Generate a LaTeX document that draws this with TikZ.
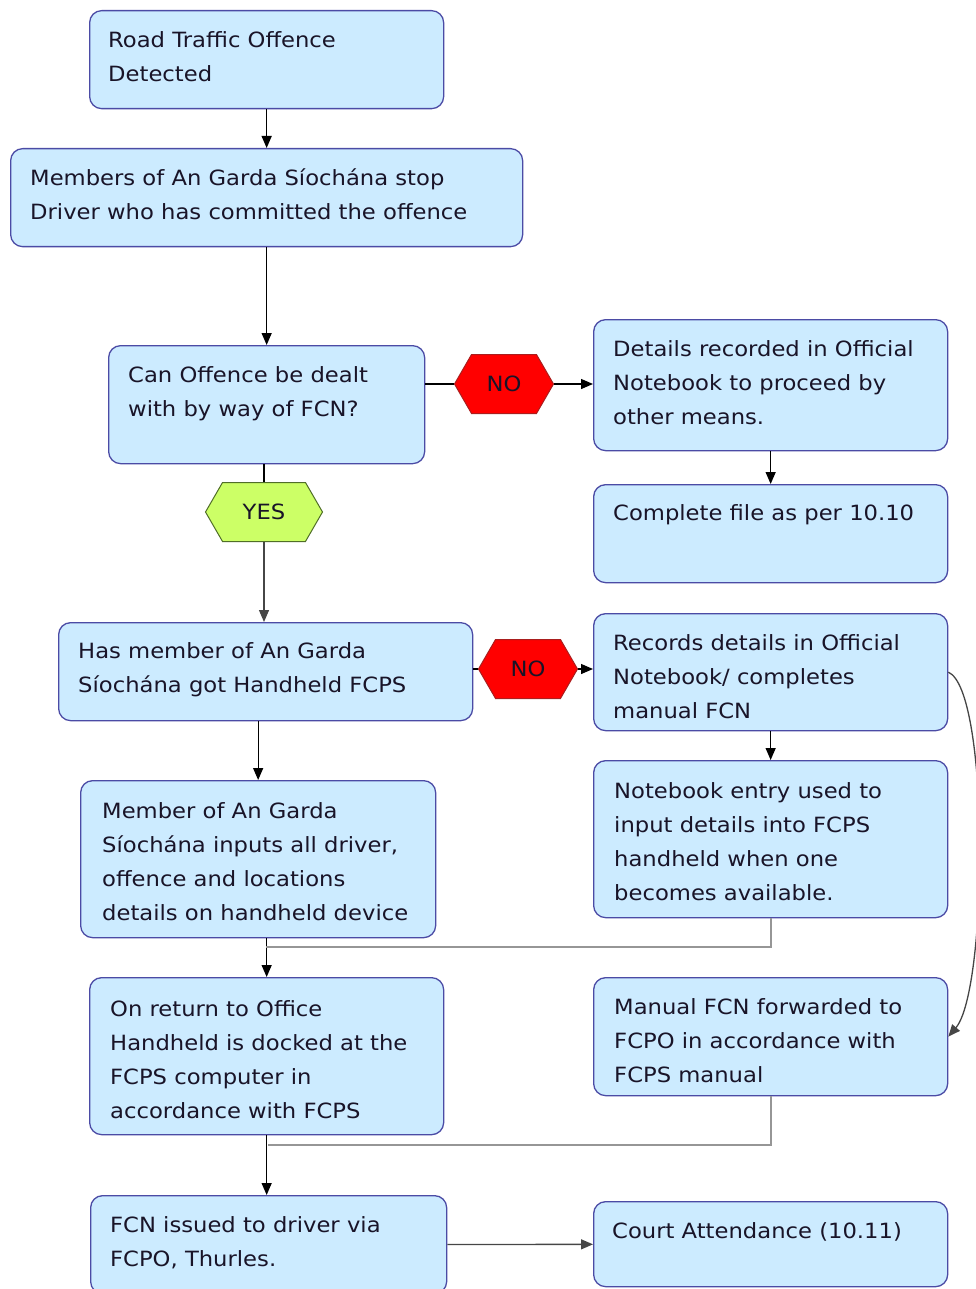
\documentclass[tikz,border=0pt]{standalone}
\usepackage{fontspec}
\setmainfont[FakeStretch=1.08]{DejaVu Sans}
\usetikzlibrary{shapes.symbols,arrows.meta}
\definecolor{boxfill}{RGB}{204,235,255}
\definecolor{boxline}{RGB}{75,75,165}
\definecolor{nored}{RGB}{255,0,0}
\definecolor{noline}{RGB}{170,30,30}
\definecolor{yesfill}{RGB}{204,255,102}
\definecolor{yesline}{RGB}{80,110,40}
\definecolor{txtcol}{RGB}{25,20,40}
\definecolor{joinline}{RGB}{150,150,150}
\definecolor{darkline}{RGB}{70,70,70}
\begin{document}
\begin{tikzpicture}[x=1pt,y=-1pt,
  box/.style={draw=boxline, fill=boxfill, line width=1.3pt, rounded corners=12pt, anchor=north west, inner sep=0pt},
  txt/.style={anchor=north west, inner sep=0pt, align=left, text=txtcol, font=\fontsize{21}{34}\selectfont},
  hexa/.style={signal, signal to=west and east, signal pointer angle=120, inner sep=0pt, text=txtcol, font=\fontsize{21}{24}\selectfont, line width=1pt},
  nohex/.style={hexa, fill=nored, draw=noline, minimum width=99pt, minimum height=59pt},
  yeshex/.style={hexa, fill=yesfill, draw=yesline, minimum width=117pt, minimum height=59pt},
  arr/.style={-{Triangle[length=12pt,width=10pt]}, line width=1.3pt, draw=black},
  plain/.style={line width=1.3pt, draw=black},
  joinl/.style={line width=2pt, draw=joinline},
  grayarr/.style={-{Triangle[length=12pt,width=10pt]}, line width=1.3pt, draw=darkline}
]
\useasboundingbox (0,0) rectangle (975,1289);

% boxes
\node[box, minimum width=354pt, minimum height=98pt] (b1) at (89,10) {};
\node[box, minimum width=512pt, minimum height=98pt] (b2) at (10,148) {};
\node[box, minimum width=316pt, minimum height=118pt] (b3) at (108,345) {};
\node[box, minimum width=354pt, minimum height=131pt] (b5) at (593,319) {};
\node[box, minimum width=354pt, minimum height=98pt] (b6) at (593,484) {};
\node[box, minimum width=414pt, minimum height=98pt] (b8) at (58,622) {};
\node[box, minimum width=354pt, minimum height=117pt] (b10) at (593,613) {};
\node[box, minimum width=355pt, minimum height=157pt] (b11) at (80,780) {};
\node[box, minimum width=354pt, minimum height=157pt] (b12) at (593,760) {};
\node[box, minimum width=354pt, minimum height=157pt] (b13) at (89,977) {};
\node[box, minimum width=354pt, minimum height=118pt] (b14) at (593,977) {};
\node[box, minimum width=356pt, minimum height=98pt] (b15) at (90,1195) {};
\node[box, minimum width=354pt, minimum height=85pt] (b16) at (593,1201) {};

% hexagons
\node[nohex] (no1) at (504,384) {NO};
\node[yeshex] (yes) at (264,512) {YES};
\node[nohex] (no2) at (528,669) {NO};

% texts
\node[txt] (t1) at (108,31) {Road Traffic Offence\\Detected};
\node[txt] (t2) at (30,169) {Members of An Garda Síochána stop\\Driver who has committed the offence};
\node[txt] (t3) at (128,366) {Can Offence be dealt\\with by way of FCN?};
\node[txt] (t5) at (613,340) {Details recorded in Official\\Notebook to proceed by\\other means.};
\node[txt] (t6) at (613,504) {Complete file as per 10.10};
\node[txt] (t8) at (78,642) {Has member of An Garda\\Síochána got Handheld FCPS};
\node[txt] (t10) at (613,634) {Records details in Official\\Notebook/ completes\\manual FCN};
\node[txt] (t11) at (102,802) {Member of An Garda\\Síochána inputs all driver,\\offence and locations\\details on handheld device};
\node[txt] (t12) at (614,782) {Notebook entry used to\\input details into FCPS\\handheld when one\\becomes available.};
\node[txt] (t13) at (110,1000) {On return to Office\\Handheld is docked at the\\FCPS computer in\\accordance with FCPS};
\node[txt] (t14) at (614,998) {Manual FCN forwarded to\\FCPO in accordance with\\FCPS manual};
\node[txt] (t15) at (110,1216) {FCN issued to driver via\\FCPO, Thurles.};
\node[txt] (t16) at (612,1222) {Court Attendance (10.11)};

% join points
\coordinate (j1) at (266,947);
\coordinate (j2) at (268,1145);

% connectors
\draw[arr] (b1) -- (b2);
\draw[arr] (b2) -- (b3);
\draw[plain] (no1.west -| b3.east) -- (no1.west);
\draw[arr] (no1.east) -- (no1.east -| b5.west);
\draw[plain] (yes.north |- b3.south) -- (yes.north);
\draw[arr, draw=darkline] (yes.south) -- (yes.south |- b8.north);
\draw[plain] (no2.west -| b8.east) -- (no2.west);
\draw[arr] (no2.east) -- (no2.east -| b10.west);
\draw[arr] (b5) -- (b6);
\draw[arr] (b10) -- (b12);
\draw[arr] (b8.south -| b11.north) -- (b11.north);
\draw[arr] (b13.north |- b11.south) -- (b13.north);
\draw[joinl] (b12.south) |- (j1);
\draw[arr] (b13.south) -- (b13.south |- b15.north);
\draw[joinl] (b14.south) |- (j2);
\draw[grayarr] (b15) -- (b16);
\draw[grayarr] (b10.east) .. controls (990,690) and (988,990) .. (b14.east);
\end{tikzpicture}
\end{document}
